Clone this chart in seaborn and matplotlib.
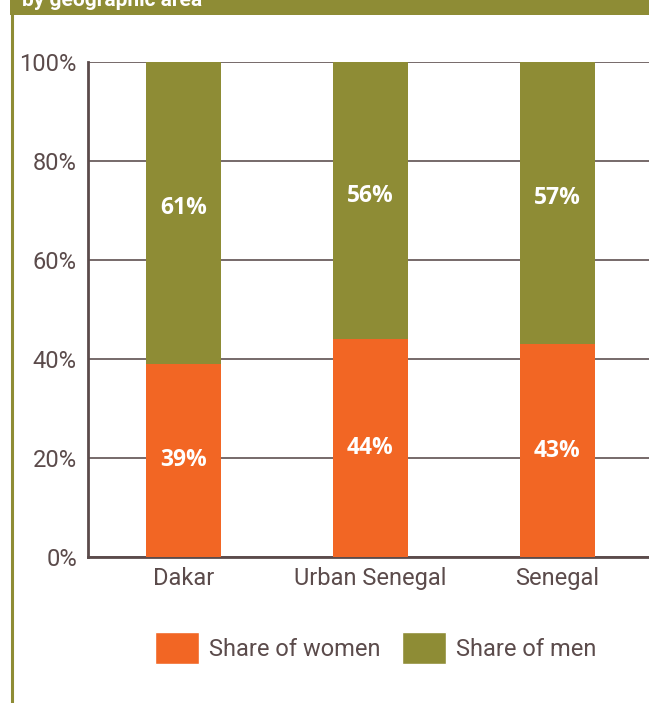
import numpy as np
import pandas as pd
import seaborn as sns
import matplotlib.pyplot as plt
from matplotlib.patches import Patch, Rectangle
from matplotlib.lines import Line2D

# data
areas = ["Dakar", "Urban Senegal", "Senegal"]
women = [39, 44, 43]
men = [61, 56, 57]

ORANGE = "#F26624"
OLIVE = "#8E8C35"
TXT = "#5B4B4B"

sns.set_style("white")
plt.rcParams['font.family'] = ['Roboto', 'DejaVu Sans']

df = pd.DataFrame({"area": areas, "women": women, "men": men})
df["total"] = df["women"] + df["men"]

fig = plt.figure(figsize=(6.49, 7.03), dpi=100)
ax = fig.add_axes([88 / 649, 146 / 703, 561 / 649, 495 / 703])

# stacked bars: total (men on top) then women
sns.barplot(data=df, x="area", y="total", color=OLIVE, width=0.4, saturation=1,
            linewidth=0, ax=ax, zorder=3)
sns.barplot(data=df, x="area", y="women", color=ORANGE, width=0.4, saturation=1,
            linewidth=0, ax=ax, zorder=4)

for i, (w, m) in enumerate(zip(women, men)):
    ax.text(i, w / 2, f"{w}%", color="white", fontsize=16.5, fontweight="bold",
            family="Open Sans", ha="center", va="center", zorder=5)
    ax.text(i, w + m / 2 + 1, f"{m}%", color="white", fontsize=16.5, fontweight="bold",
            family="Open Sans", ha="center", va="center", zorder=5)

ax.set_xlim(-0.51, 2.49)
ax.set_ylim(0, 100)
ax.set_yticks(np.arange(0, 101, 20))
ax.set_yticklabels([f"{v}%" for v in range(0, 101, 20)])
ax.yaxis.grid(True, color="#6B5E5E", linewidth=1.3, zorder=1)
ax.set_axisbelow(True)
ax.set_xlabel("")
ax.set_ylabel("")

ax.set_xticks([0.5, 1.5], minor=True)
ax.tick_params(axis="x", which="minor", direction="in", length=10, width=2, color=TXT)
ax.tick_params(axis="x", which="major", length=0, labelsize=17, labelcolor=TXT, pad=7)
ax.tick_params(axis="y", length=0, labelsize=17, labelcolor=TXT, pad=8)

for s in ["top", "right"]:
    ax.spines[s].set_visible(False)
for s in ["left", "bottom"]:
    ax.spines[s].set_color(TXT)
    ax.spines[s].set_linewidth(2)

handles = [Patch(facecolor=ORANGE, label="Share of women"),
           Patch(facecolor=OLIVE, label="Share of men")]
fig.legend(handles=handles, loc="center", bbox_to_anchor=(376 / 649, 1 - 648 / 703),
           ncol=2, frameon=False, fontsize=17, labelcolor=TXT,
           handlelength=1.85, handleheight=1.75, handletextpad=0.45, columnspacing=0.9)

# header banner and left frame line
fig.patches.append(Rectangle((10 / 649, 1 - 15 / 703), 1, 15 / 703, transform=fig.transFigure,
                             facecolor=OLIVE, edgecolor="none", zorder=0))
fig.lines.append(Line2D([12 / 649, 12 / 649], [0, 1], transform=fig.transFigure,
                        color=OLIVE, linewidth=2.2))
fig.text(22 / 649, 1 - 1 / 703, "by geographic area", color="white", fontsize=15,
         fontweight="bold", ha="left", va="center")

fig.savefig("out.png", dpi=100)
